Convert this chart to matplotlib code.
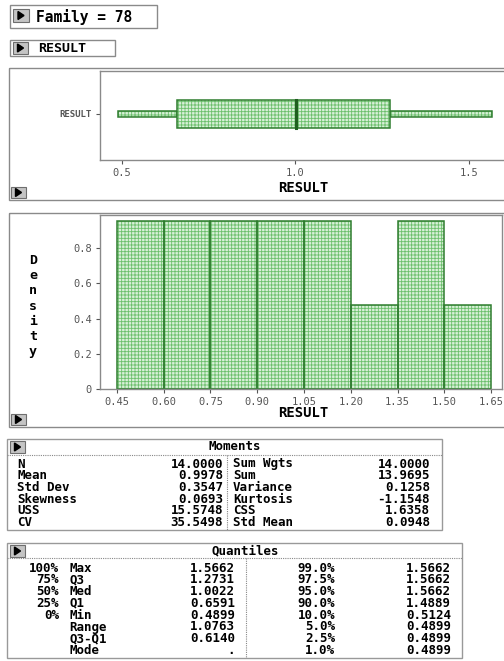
import numpy as np
import matplotlib
matplotlib.use("Agg")
import matplotlib.pyplot as plt
import matplotlib.patches as patches

# ---- data ----
family_id = 78
var_name = "RESULT"

# five number summary for the box plot
box_min = 0.4899
box_q1 = 0.6591
box_med = 1.0022
box_q3 = 1.2731
box_max = 1.5662

# histogram bins (counts out of n)
n_obs = 14
bin_edges = [0.45, 0.60, 0.75, 0.90, 1.05, 1.20, 1.35, 1.50, 1.65]
bin_counts = [2, 2, 2, 2, 2, 1, 2, 1]
hist_yticks = [0, 0.2, 0.4, 0.6, 0.8]
box_xticks = [0.5, 1.0, 1.5]

# moments table
mom_left_labels = ["N", "Mean", "Std Dev", "Skewness", "USS", "CV"]
mom_left_values = ["14.0000", "0.9978", "0.3547", "0.0693", "15.5748", "35.5498"]
mom_right_labels = ["Sum Wgts", "Sum", "Variance", "Kurtosis", "CSS", "Std Mean"]
mom_right_values = ["14.0000", "13.9695", "0.1258", "-1.1548", "1.6358", "0.0948"]

# quantiles table
q_pcts = ["100%", "75%", "50%", "25%", "0%", "", "", ""]
q_names = ["Max", "Q3", "Med", "Q1", "Min", "Range", "Q3-Q1", "Mode"]
q_values = ["1.5662", "1.2731", "1.0022", "0.6591", "0.4899", "1.0763", "0.6140", "."]
q_pcts2 = ["99.0%", "97.5%", "95.0%", "90.0%", "10.0%", "5.0%", "2.5%", "1.0%"]
q_values2 = ["1.5662", "1.5662", "1.5662", "1.4889", "0.5124", "0.4899", "0.4899", "0.4899"]

# ---- style ----
W, H = 504, 661
mono = "DejaVu Sans Mono"
fill_green = "#d8f0d8"
hatch_green = "#6cbf6c"
edge_green = "#2f7d2f"
frame_grey = "#8a8a8a"
plt.rcParams["hatch.linewidth"] = 0.6


def px_rect(x0, y0, x1, y1):
    # pixel box (top-left origin) -> figure fraction rect
    return [x0 / W, 1 - y1 / H, (x1 - x0) / W, (y1 - y0) / H]


fig = plt.figure(figsize=(W / 100, H / 100), dpi=100)
bg = fig.add_axes([0, 0, 1, 1])
bg.set_xlim(0, W)
bg.set_ylim(H, 0)
bg.axis("off")


def frame(x0, y0, x1, y1, color=frame_grey, lw=1.0):
    bg.add_patch(patches.Rectangle((x0, y0), x1 - x0, y1 - y0, fill=False,
                                   edgecolor=color, linewidth=lw))


def button(x, y, w=15, h=12):
    bg.add_patch(patches.Rectangle((x, y), w, h, facecolor="#c4c4c4",
                                   edgecolor="#6e6e6e", linewidth=0.8))
    cx, cy = x + w / 2, y + h / 2
    bg.add_patch(patches.Polygon([(cx - 3, cy - 4), (cx - 3, cy + 4), (cx + 3, cy)],
                                 closed=True, color="black"))


# title boxes
frame(10, 5, 157, 28)
button(13, 9, 16, 13)
bg.text(36, 17, f"Family = {family_id}", fontsize=10.5, family=mono,
        weight="bold", va="center", ha="left")
frame(10, 40, 115, 56)
button(13, 42, 15, 12)
bg.text(38, 48.5, var_name, fontsize=9.5, family=mono, weight="bold",
        va="center", ha="left")

# panel frames
frame(9, 68, 506, 200)
button(11, 187, 15, 11)
frame(9, 213, 506, 427)
button(11, 414, 15, 11)


def hatched_bar(ax, horizontal=False, **kw):
    if horizontal:
        ax.barh(color=fill_green, edgecolor=hatch_green, hatch="+++++",
                linewidth=0, **kw)
        ax.barh(fill=False, edgecolor=edge_green, linewidth=1.1, **kw)
    else:
        ax.bar(color=fill_green, edgecolor=hatch_green, hatch="+++++",
               linewidth=0, **kw)
        ax.bar(fill=False, edgecolor=edge_green, linewidth=1.1, **kw)


def style_axes(ax):
    for s in ax.spines.values():
        s.set_color(frame_grey)
        s.set_linewidth(1.0)
    ax.tick_params(length=3, width=0.8, color="#555555", labelsize=7.5,
                   labelcolor="#555555", pad=3)
    for lab in ax.get_xticklabels() + ax.get_yticklabels():
        lab.set_family(mono)


# ---- box plot ----
axb = fig.add_axes(px_rect(100, 71, 506, 160))
yc = 0.517
box_h = 0.31
whisk_h = 0.06
hatched_bar(axb, horizontal=True, y=[yc], width=[box_q1 - box_min],
            left=[box_min], height=whisk_h)
hatched_bar(axb, horizontal=True, y=[yc], width=[box_max - box_q3],
            left=[box_q3], height=whisk_h)
hatched_bar(axb, horizontal=True, y=[yc], width=[box_q3 - box_q1],
            left=[box_q1], height=box_h)
axb.plot([box_med, box_med], [yc - box_h / 2, yc + box_h / 2],
         color="#1f5f1f", linewidth=2.2)
axb.set_xlim(0.4366, 1.607)
axb.set_ylim(0, 1)
axb.set_xticks(box_xticks)
axb.set_xticklabels([f"{v:.1f}" for v in box_xticks])
axb.set_yticks([yc])
axb.set_yticklabels([var_name])
style_axes(axb)
for lab in axb.get_yticklabels():
    lab.set_fontsize(6.5)
    lab.set_weight("bold")
bg.text(303, 188, var_name, fontsize=10, family=mono, weight="bold",
        ha="center", va="center")

# ---- histogram ----
axh = fig.add_axes(px_rect(100, 215, 502, 389))
widths = np.diff(bin_edges)
density = np.array(bin_counts) / (n_obs * widths)
hatched_bar(axh, x=bin_edges[:-1], height=density, width=widths, align="edge")
axh.set_xlim(0.396, 1.685)
axh.set_ylim(0, 0.988)
axh.set_xticks(bin_edges)
axh.set_xticklabels([f"{v:.2f}" for v in bin_edges])
axh.set_yticks(hist_yticks)
axh.set_yticklabels(["0"] + [f"{v:.1f}" for v in hist_yticks[1:]])
style_axes(axh)
bg.text(303, 413, var_name, fontsize=10, family=mono, weight="bold",
        ha="center", va="center")
bg.text(33, 306, "\n".join("Density"), fontsize=9.5, family=mono,
        weight="bold", ha="center", va="center", linespacing=1.22)

# ---- moments table ----
tfs = 9
frame(7, 439, 442, 530, color="#999999")
button(10, 441, 15, 12)
bg.text(235, 447, "Moments", fontsize=tfs, family=mono, weight="bold",
        ha="center", va="center")
bg.plot([7, 442], [455, 455], color="#888888", lw=0.8, ls=(0, (1, 1)))
bg.plot([227, 227], [455, 530], color="#888888", lw=0.8, ls=(0, (1, 1)))
for i in range(len(mom_left_labels)):
    y = 464 + i * 11.7
    bg.text(17, y, mom_left_labels[i], fontsize=tfs, family=mono,
            weight="bold", va="center", ha="left")
    bg.text(223, y, mom_left_values[i], fontsize=tfs, family=mono,
            weight="bold", va="center", ha="right")
    bg.text(233, y, mom_right_labels[i], fontsize=tfs, family=mono,
            weight="bold", va="center", ha="left")
    bg.text(430, y, mom_right_values[i], fontsize=tfs, family=mono,
            weight="bold", va="center", ha="right")

# ---- quantiles table ----
frame(7, 543, 462, 658, color="#999999")
button(10, 545, 15, 12)
bg.text(245, 551, "Quantiles", fontsize=tfs, family=mono, weight="bold",
        ha="center", va="center")
bg.plot([7, 462], [558, 558], color="#888888", lw=0.8, ls=(0, (1, 1)))
bg.plot([246, 246], [558, 658], color="#888888", lw=0.8, ls=(0, (1, 1)))
for i in range(len(q_names)):
    y = 568 + i * 11.8
    bg.text(59, y, q_pcts[i], fontsize=tfs, family=mono, weight="bold",
            va="center", ha="right")
    bg.text(69, y, q_names[i], fontsize=tfs, family=mono, weight="bold",
            va="center", ha="left")
    bg.text(235, y, q_values[i], fontsize=tfs, family=mono, weight="bold",
            va="center", ha="right")
    bg.text(335, y, q_pcts2[i], fontsize=tfs, family=mono, weight="bold",
            va="center", ha="right")
    bg.text(451, y, q_values2[i], fontsize=tfs, family=mono, weight="bold",
            va="center", ha="right")

fig.savefig("out.png", dpi=100)
